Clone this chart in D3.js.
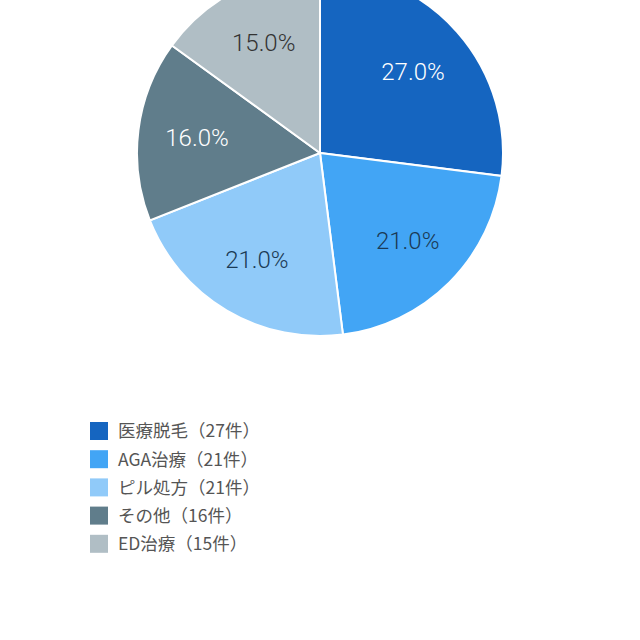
<!DOCTYPE html>
<html>
<head>
<meta charset="utf-8">
<title>Pie</title>
<style>
  html, body { margin: 0; padding: 0; background: #fff; }
  body { width: 640px; height: 640px; overflow: hidden; font-family: Roboto, "Noto Sans CJK JP", sans-serif; }
</style>
<script src="https://d3js.org/d3.v7.min.js" charset="utf-8"></script>
</head>
<body>
<script>
// data
var categories = ["医療脱毛", "AGA治療", "ピル処方", "その他", "ED治療"];
var counts = [27, 21, 21, 16, 15];
var colors = ["#1565c0", "#42a5f5", "#90caf9", "#607d8b", "#b0bec5"];
var labelColors = ["#ffffff", "#1b3a55", "#1b3a55", "#ffffff", "#333333"];

var width = 640, height = 640;
var cx = 320, cy = 153, radius = 183, labelRadius = 124;

var svg = d3.select("body").append("svg")
    .attr("width", width)
    .attr("height", height);

var total = d3.sum(counts);
var pie = d3.pie().sort(null).value(function(d) { return d; });
var arcs = pie(counts);

var arc = d3.arc().innerRadius(0).outerRadius(radius);
var labelArc = d3.arc().innerRadius(labelRadius).outerRadius(labelRadius);

var g = svg.append("g").attr("transform", "translate(" + cx + "," + cy + ")");

g.selectAll("path")
    .data(arcs)
    .enter()
    .append("path")
    .attr("d", arc)
    .attr("fill", function(d, i) { return colors[i]; })
    .attr("stroke", "#fff")
    .attr("stroke-width", 2);

g.selectAll("text")
    .data(arcs)
    .enter()
    .append("text")
    .attr("transform", function(d) { return "translate(" + labelArc.centroid(d) + ")"; })
    .attr("text-anchor", "middle")
    .attr("dy", "0.36em")
    .style("font-family", "Roboto, sans-serif")
    .style("font-size", "24px")
    .style("font-weight", 300)
    .attr("fill", function(d, i) { return labelColors[i]; })
    .text(function(d) { return (d.value / total * 100).toFixed(1) + "%"; });

// legend
var legend = svg.append("g").attr("transform", "translate(90,422)");
var rowY = d3.scaleLinear().domain([0, 1]).range([0, 28.2]);

var rows = legend.selectAll(".row")
    .data(categories)
    .enter()
    .append("g")
    .attr("class", "row")
    .attr("transform", function(d, i) { return "translate(0," + rowY(i) + ")"; });

rows.append("rect")
    .attr("width", 18)
    .attr("height", 18)
    .attr("fill", function(d, i) { return colors[i]; });

rows.append("text")
    .attr("x", 28)
    .attr("y", 9)
    .attr("dy", "0.36em")
    .style("font-family", "'Noto Sans CJK JP', sans-serif")
    .style("font-size", "17.5px")
    .attr("fill", "#555")
    .text(function(d, i) { return d + "（" + counts[i] + "件）"; });
</script>
</body>
</html>
